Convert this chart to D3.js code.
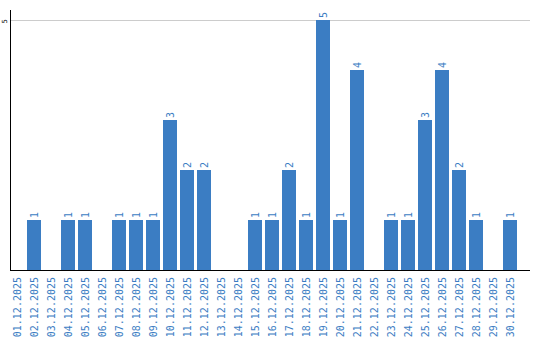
<!DOCTYPE html>
<html>
<head>
<meta charset="utf-8">
<script src="https://cdn.jsdelivr.net/npm/d3@7"></script>
<style>
  body { margin: 0; background: #fff; }
  svg text { font-family: "DejaVu Sans Mono", monospace; }
</style>
</head>
<body>
<svg width="540" height="340"></svg>
<script>
var days = ["01.12.2025","02.12.2025","03.12.2025","04.12.2025","05.12.2025","06.12.2025",
            "07.12.2025","08.12.2025","09.12.2025","10.12.2025","11.12.2025","12.12.2025",
            "13.12.2025","14.12.2025","15.12.2025","16.12.2025","17.12.2025","18.12.2025",
            "19.12.2025","20.12.2025","21.12.2025","22.12.2025","23.12.2025","24.12.2025",
            "25.12.2025","26.12.2025","27.12.2025","28.12.2025","29.12.2025","30.12.2025"];
var counts = [0,1,0,1,1,0,1,1,1,3,2,2,0,0,1,1,2,1,5,1,4,0,1,1,3,4,2,1,0,1];
var yTicks = [5];

var svg = d3.select("svg"),
    margin = {top: 20, right: 10, bottom: 70, left: 10},
    width = 540 - margin.left - margin.right,
    height = 340 - margin.top - margin.bottom,
    g = svg.append("g").attr("transform", "translate(" + margin.left + "," + margin.top + ")");

var blue = "#3b7dc3";

var x = d3.scaleBand()
    .domain(days)
    .range([0, days.length * 17 - 3])
    .paddingInner(3 / 17)
    .paddingOuter(0);

var y = d3.scaleLinear().domain([0, 5]).range([height, 0]);

// gridline at 5
g.append("g")
    .attr("class", "grid")
    .call(d3.axisLeft(y).tickValues(yTicks).tickSize(-width).tickFormat(""))
  .call(function(s) {
    s.select(".domain").remove();
    s.selectAll("line").attr("stroke", "#cccccc");
  });

// y tick label
g.selectAll(".ylab")
  .data(yTicks)
  .enter().append("text")
    .attr("class", "ylab")
    .attr("transform", function(d) { return "translate(-3.5," + (y(d) + 1.5) + ") rotate(-90)"; })
    .attr("text-anchor", "middle")
    .attr("font-size", 7)
    .attr("fill", "#000")
    .text(function(d) { return d; });

g.selectAll(".bar")
  .data(days)
  .enter().append("rect")
    .attr("class", "bar")
    .attr("x", function(d) { return x(d); })
    .attr("y", function(d, i) { return y(counts[i]); })
    .attr("width", x.bandwidth())
    .attr("height", function(d, i) { return height - y(counts[i]); })
    .attr("fill", blue);

g.selectAll(".val")
  .data(days.filter(function(d, i) { return counts[i] > 0; }))
  .enter().append("text")
    .attr("class", "val")
    .attr("transform", function(d) {
      return "translate(" + (x(d) + x.bandwidth() / 2 + 4) + "," + (y(counts[days.indexOf(d)]) - 2) + ") rotate(-90)";
    })
    .attr("text-anchor", "start")
    .attr("font-size", 10)
    .attr("fill", blue)
    .text(function(d) { return counts[days.indexOf(d)]; });

// x axis
var xAxis = g.append("g")
    .attr("transform", "translate(0," + height + ")")
    .call(d3.axisBottom(x).tickSize(0).tickPadding(0));
xAxis.select(".domain").attr("d", "M0,0.5H" + width).attr("stroke", "#000").attr("stroke-width", 1);
xAxis.selectAll("text")
    .attr("font-size", 10)
    .attr("fill", blue)
    .attr("text-anchor", "end")
    .attr("dy", null)
    .attr("transform", "translate(3.5,7) rotate(-90)")
    .attr("y", 0);

// y axis line
g.append("line")
    .attr("x1", 0.5).attr("x2", 0.5)
    .attr("y1", -10).attr("y2", height + 1)
    .attr("stroke", "#000")
    .attr("stroke-width", 1);
</script>
</body>
</html>
